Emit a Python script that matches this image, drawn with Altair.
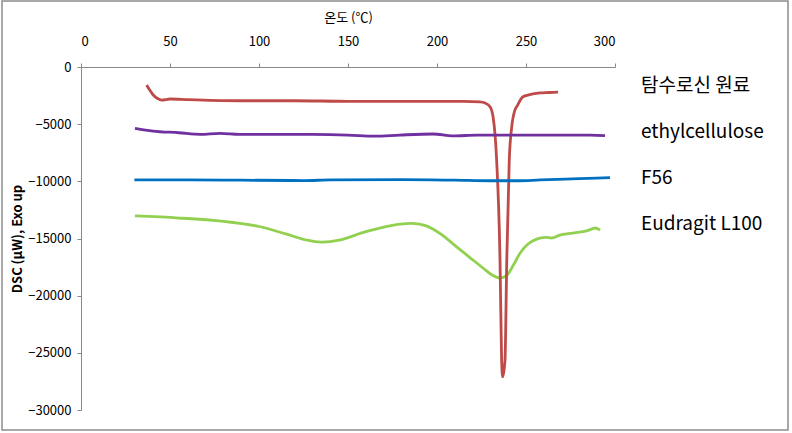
import altair as alt
import pandas as pd

names = ["탐수로신 원료", "ethylcellulose", "F56", "Eudragit L100"]
colors = ["#BE4B48", "#7030A0", "#0070C0", "#92D050"]

red_x = [36.9, 38.5, 40.6, 43, 45.3, 50, 60, 89, 120, 150, 180, 200, 215, 224, 227,
         229.8, 231.5, 233.5, 235.4, 236.3, 236.9, 238.2, 239.2, 240.6, 242, 243.8,
         244.8, 248.3, 252, 257.9, 263, 268]
red_y = [-1570, -2000, -2450, -2750, -2890, -2800, -2850, -2950, -2950, -3000, -3000,
         -3000, -3000, -3050, -3150, -3470, -4350, -8130, -16880, -25630, -27090,
         -25630, -16880, -8130, -5220, -3760, -3470, -2600, -2420, -2270, -2230, -2190]

pur_x = [30.3, 40.4, 55, 67, 78, 89, 110, 130, 150, 165, 179, 197.8, 209, 222.5,
         235.4, 257.9, 286, 294.4]
pur_y = [-5360, -5600, -5750, -5890, -5800, -5890, -5900, -5900, -5950, -6050,
         -5950, -5860, -6030, -5950, -5950, -5950, -5950, -6000]

blu_x = [30, 60, 90, 125, 140, 180, 210, 230, 245, 258, 280, 297.2]
blu_y = [-9880, -9880, -9900, -9930, -9880, -9850, -9900, -9950, -9950, -9880,
         -9770, -9680]

grn_x = [30.3, 55, 80, 100, 115, 127, 135, 145, 160, 175, 186, 194, 202, 210, 218,
         226, 231, 235, 239, 243, 247, 251, 256, 261, 265, 269, 276, 284, 289, 291.6]
grn_y = [-13030, -13210, -13500, -13950, -14600, -15150, -15320, -15150, -14400,
         -13850, -13680, -13900, -14600, -15600, -16600, -17600, -18200, -18450,
         -18250, -17300, -16200, -15500, -15050, -14900, -14950, -14700, -14520,
         -14340, -14080, -14260]

rows = []
for name, xs, ys in zip(names, [red_x, pur_x, blu_x, grn_x], [red_y, pur_y, blu_y, grn_y]):
    for i, (x, y) in enumerate(zip(xs, ys)):
        rows.append({"series": name, "temp": x, "dsc": y, "order": i})
df = pd.DataFrame(rows)

FONT = "Noto Sans CJK KR"

x_enc = alt.X("temp:Q", scale=alt.Scale(domain=[0, 300], nice=False),
              axis=alt.Axis(orient="top", values=[0, 50, 100, 150, 200, 250, 300],
                            title="온도 (℃)", titleFontWeight="normal", titleFontSize=13,
                            titlePadding=11, labelPadding=15, tickSize=4,
                            labelFontSize=13, grid=False))
y_enc = alt.Y("dsc:Q", scale=alt.Scale(domain=[-30000, 0], nice=False),
              axis=alt.Axis(values=[0, -5000, -10000, -15000, -20000, -25000, -30000],
                            format="d",
                            title="DSC (μW),  Exo up", titleFontWeight="bold",
                            titleFontSize=13, titleX=-64, titleY=171.5,
                            titleAngle=270, titleBaseline="middle", titleAlign="center",
                            labelPadding=6, tickSize=4, labelFontSize=13, grid=False))
color_enc = alt.Color("series:N", scale=alt.Scale(domain=names, range=colors),
                      sort=names,
                      legend=alt.Legend(title=None, orient="none", legendX=537, legendY=9,
                                        symbolOpacity=0, symbolSize=1, symbolStrokeWidth=0,
                                        labelFontSize=19, labelFont=FONT, labelLimit=300,
                                        labelOffset=4, rowPadding=26, labelColor="#000"))

base = alt.Chart(df)

lines_main = base.transform_filter(
    alt.datum.series != "Eudragit L100"
).mark_line(strokeWidth=2.8, interpolate="monotone").encode(
    x=x_enc, y=y_enc, color=color_enc, detail="series:N", order="order:Q"
)
lines_green = base.transform_filter(
    alt.datum.series == "Eudragit L100"
).mark_line(strokeWidth=2.8, interpolate="catmull-rom").encode(
    x=x_enc, y=y_enc, color=color_enc, detail="series:N", order="order:Q"
)

border = alt.Chart(alt.Data(values=[{}])).mark_rect(
    fill=None, stroke="#8c8c8c", strokeWidth=1.5, clip=False
).encode(
    x=alt.value(-79), x2=alt.value(707), y=alt.value(-66), y2=alt.value(363)
)

chart = alt.layer(border, lines_green, lines_main).properties(
    width=534, height=343,
    autosize=alt.AutoSizeParams(type="none"),
    padding={"left": 81, "top": 67, "right": 177, "bottom": 23},
    background="white",
).configure_view(stroke=None).configure_axis(
    domainColor="#888888", tickColor="#888888", labelColor="#000000",
    titleColor="#000000", labelFont=FONT, titleFont=FONT
)

chart.save("out.html", embed_options={"renderer": "svg", "actions": False})
